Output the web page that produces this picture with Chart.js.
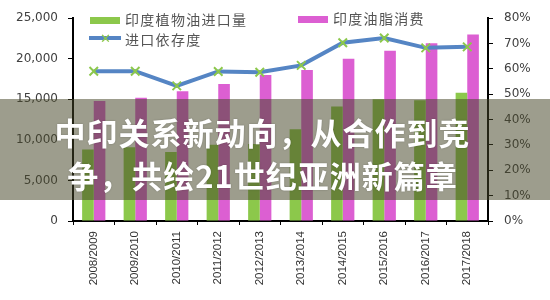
<!DOCTYPE html>
<html>
<head>
<meta charset="utf-8">
<script src="https://cdn.jsdelivr.net/npm/chart.js@4"></script>
<style>
    html, body { margin: 0; padding: 0; background: #fff; }
    #wrap { position: relative; width: 550px; height: 300px; overflow: hidden; }
    #legend { position: absolute; left: 0; top: 0; font-family: "Noto Sans CJK SC", sans-serif; font-size: 14px; color: #555; letter-spacing: 1.3px; }
    .item { position: absolute; white-space: nowrap; line-height: 16px; }
    .swatch { position: absolute; }
    #band { position: absolute; left: 0; top: 99px; width: 550px; height: 101px; background: rgba(70, 70, 40, 0.53); }
    #title { position: absolute; left: 0; top: 110px; width: 525px; text-align: center; color: #fff;
        font-family: "Noto Sans CJK SC", sans-serif; font-weight: 700; font-size: 31px; line-height: 43px; letter-spacing: 1px;
        text-shadow: 0 0 2px rgba(0, 0, 0, 0.25); }
</style>
</head>
<body>
<div id="wrap">
    <canvas id="chart"></canvas>
    <div id="legend">
        <div class="swatch" style="left:90px;top:17px;width:30px;height:7px;background:#8cc84b"></div>
        <div class="item" style="left:125px;top:11px">印度植物油进口量</div>
        <div class="swatch" style="left:298px;top:16px;width:30px;height:7px;background:#dc5fd2"></div>
        <div class="item" style="left:333px;top:10px">印度油脂消费</div>
        <div class="swatch" style="left:89px;top:36px;width:32px;height:4px;background:#5585c4"></div>
        <div class="item" style="left:100px;top:30px;color:#8cc84b;font-size:13px;letter-spacing:0">✕</div>
        <div class="item" style="left:125px;top:31px">进口依存度</div>
    </div>
    <div id="band"></div>
    <div id="title">中印关系新动向，从合作到竞<br>争，共绘21世纪亚洲新篇章</div>
</div>
<script>
// 数据
const years = ['2008/2009', '2009/2010', '2010/2011', '2011/2012', '2012/2013',
               '2013/2014', '2014/2015', '2015/2016', '2016/2017', '2017/2018'];
const vegOilImports = [8800, 9100, 8500, 9400, 9500, 11300, 14100, 15000, 14900, 15800];
const oilConsumption = [14800, 15200, 16000, 16900, 18000, 18600, 20000, 21000, 21900, 23000];
const importDependence = [59.1, 59.1, 53.3, 59.0, 58.7, 61.4, 70.3, 72.2, 68.3, 68.7];

const axisFont = { family: 'DejaVu Sans', size: 12 };

const ctx = document.getElementById('chart').getContext('2d');
const chart = new Chart(ctx, {
    type: 'bar',
    data: {
        labels: years,
        datasets: [{
            type: 'line',
            label: '进口依存度',
            data: importDependence,
            yAxisID: 'y1',
            borderColor: '#5585c4',
            borderWidth: 4,
            tension: 0,
            pointStyle: 'crossRot',
            pointRadius: 6,
            pointBorderColor: '#8cc84b',
            pointBorderWidth: 2,
            order: 0
        }, {
            label: '印度植物油进口量',
            data: vegOilImports,
            yAxisID: 'y',
            backgroundColor: '#8cc84b',
            categoryPercentage: 0.56,
            barPercentage: 1,
            order: 1
        }, {
            label: '印度油脂消费',
            data: oilConsumption,
            yAxisID: 'y',
            backgroundColor: '#dc5fd2',
            categoryPercentage: 0.56,
            barPercentage: 1,
            order: 1
        }]
    },
    options: {
        responsive: true,
        maintainAspectRatio: false,
        animation: false,
        layout: { padding: { top: 14, left: 0, right: 0, bottom: 0 } },
        scales: {
            x: {
                afterFit: s => { s.height = 79; },
                border: { color: '#000', width: 2 },
                grid: { offset: true, drawOnChartArea: false, color: '#000', tickLength: 4 },
                ticks: {
                    minRotation: 90, maxRotation: 90, padding: 6,
                    color: '#333', font: { family: 'Liberation Sans', size: 11.5 }
                }
            },
            y: {
                position: 'left',
                min: 0, max: 25000,
                afterFit: s => { s.width = 73; },
                border: { color: '#000', width: 2 },
                grid: { drawOnChartArea: false, color: '#000', tickLength: 5 },
                ticks: { stepSize: 5000, padding: 10, color: '#404040', font: axisFont }
            },
            y1: {
                position: 'right',
                min: 0, max: 80,
                afterFit: s => { s.width = 62; },
                border: { color: '#000', width: 2 },
                grid: { drawOnChartArea: false, color: '#000', tickLength: 5 },
                ticks: { stepSize: 10, padding: 11, color: '#404040', font: axisFont, callback: v => v + '%' }
            }
        },
        plugins: {
            legend: { display: false },
            tooltip: { enabled: false }
        }
    }
});
</script>
</body>
</html>
